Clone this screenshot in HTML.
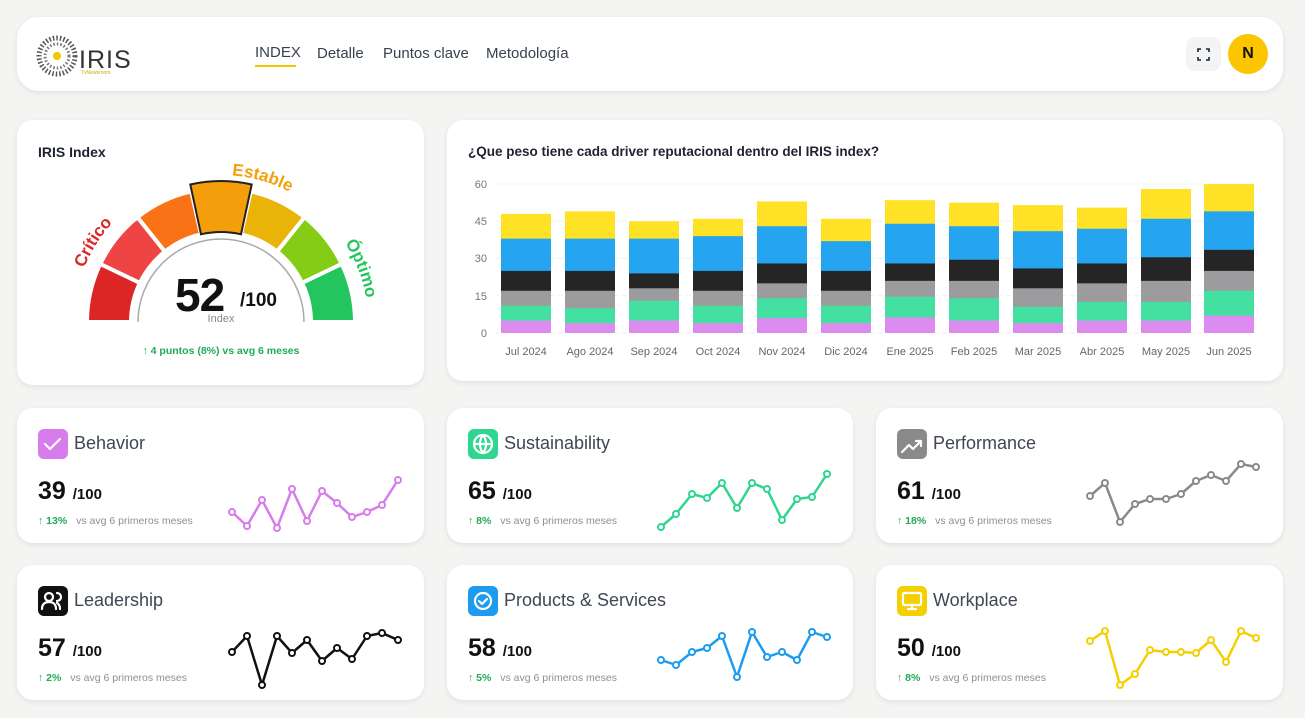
<!DOCTYPE html>
<html><head><meta charset="utf-8">
<style>
*{margin:0;padding:0;box-sizing:border-box}
body{width:1305px;height:718px;background:#f4f4f3;font-family:"Liberation Sans",sans-serif;position:relative;overflow:hidden}
.card{position:absolute;background:#fff;border-radius:16px;box-shadow:0 2px 6px rgba(0,0,0,.08)}
.abs{position:absolute;white-space:nowrap}
.nav{font-size:15px;color:#374151;top:45px}
.ttl{font-size:18px;color:#3f4654}
.val{font-size:25px;font-weight:bold;color:#111}
.val small{font-size:15px}
.sub{font-size:10.5px;color:#8a8f98}
.sub b{color:#22a957;font-weight:bold;margin-right:6px}
.ico{position:absolute;width:30px;height:30px;border-radius:6px}
</style></head><body>

<div class="card" style="left:17px;top:17px;width:1266px;height:74px;border-radius:22px"></div>
<svg class="abs" style="left:30px;top:30px" width="110" height="50">
 <circle cx="27" cy="26" r="18" fill="none" stroke="#555" stroke-width="5" stroke-dasharray="1.5 2"/>
 <circle cx="27" cy="26" r="12" fill="none" stroke="#777" stroke-width="3" stroke-dasharray="1.5 2"/>
 <circle cx="27" cy="26" r="4" fill="#f5c400"/>
 <text x="49" y="38" font-size="25" font-family="Liberation Sans" fill="#333" font-weight="300" letter-spacing="1">IRIS</text>
 <text x="51" y="44" font-size="5" fill="#d4a800">TvNewsroom</text>
</svg>
<div class="abs nav" style="left:255px;top:44px">INDEX</div>
<div class="abs" style="left:255px;top:65px;width:41px;height:2px;background:#f5c400"></div>
<div class="abs nav" style="left:317px">Detalle</div>
<div class="abs nav" style="left:383px">Puntos clave</div>
<div class="abs nav" style="left:486px">Metodología</div>
<div class="abs" style="left:1186px;top:37px;width:35px;height:34px;background:#f3f4f6;border-radius:9px"></div>
<svg class="abs" style="left:1196px;top:47px" width="15" height="15" stroke="#222" stroke-width="1.6" fill="none"><path d="M2 5V2h3M13 5V2h-3M2 10v3h3M13 10v3h-3"/></svg>
<div class="abs" style="left:1228px;top:34px;width:40px;height:40px;border-radius:50%;background:#fdc500;text-align:center;line-height:40px;font-weight:bold;font-size:16px;color:#111">N</div>

<!-- gauge card -->
<div class="card" style="left:17px;top:120px;width:407px;height:265px"></div>
<div class="abs" style="left:38px;top:144px;font-size:14px;font-weight:bold;color:#1f2330">IRIS Index</div>
<svg class="abs" style="left:0;top:0" width="440" height="390">
 <g stroke="#fff" stroke-width="4" stroke-linejoin="miter">
 <path d="M87 322A134 134 0 0 1 100.3 263.9L139.9 282.9A90 90 0 0 0 131 322Z" fill="#dc2626"/>
 <path d="M100.3 263.9A134 134 0 0 1 137.5 217.2L164.9 251.6A90 90 0 0 0 139.9 282.9Z" fill="#ef4444"/>
 <path d="M137.5 217.2A134 134 0 0 1 191.2 191.4L201 234.3A90 90 0 0 0 164.9 251.6Z" fill="#f97316"/>
 <path d="M250.8 191.4A134 134 0 0 1 304.5 217.2L277.1 251.6A90 90 0 0 0 241 234.3Z" fill="#eab308"/>
 <path d="M304.5 217.2A134 134 0 0 1 341.7 263.9L302.1 282.9A90 90 0 0 0 277.1 251.6Z" fill="#84cc16"/>
 <path d="M341.7 263.9A134 134 0 0 1 355 322L311 322A90 90 0 0 0 302.1 282.9Z" fill="#22c55e"/>
 </g>
 <path d="M190.3 184.5A138 138 0 0 1 251.7 184.5L241 234.3A90 90 0 0 0 201 234.3Z" fill="#f59e0b" stroke="#222" stroke-width="2"/>
 <path d="M138 322A83 83 0 0 1 304 322" fill="#fff" stroke="#aaa" stroke-width="1.5"/>
 <rect x="80" y="322" width="290" height="10" fill="#fff"/>
 <path id="lbl" d="M74 322A147 147 0 0 1 368 322" fill="none"/>
 <g font-size="17" font-weight="bold" text-anchor="middle">
 <text fill="#dc2626"><textPath href="#lbl" startOffset="82">Crítico</textPath></text>
 <text fill="#f59e0b"><textPath href="#lbl" startOffset="272">Estable</textPath></text>
 <text fill="#22c55e"><textPath href="#lbl" startOffset="408">Óptimo</textPath></text>
 </g>
 <text x="175" y="311" font-size="46" font-weight="bold" fill="#111" letter-spacing="-1">52</text>
 <text x="240" y="306" font-size="19" font-weight="bold" fill="#111">/100</text>
 <text x="221" y="322" font-size="11" fill="#888" text-anchor="middle">Index</text>
 <text x="221" y="354" font-size="10.5" font-weight="bold" fill="#22a957" text-anchor="middle">↑  4 puntos (8%) vs avg 6 meses</text>
</svg>

<!-- bar chart card -->
<div class="card" style="left:447px;top:120px;width:836px;height:261px"></div>
<div class="abs" style="left:468px;top:144px;font-size:13.5px;font-weight:bold;color:#1f2330">¿Que peso tiene cada driver reputacional dentro del IRIS index?</div>
<svg class="abs" style="left:0;top:0" width="1305" height="380">
 <g stroke="#eee" stroke-dasharray="4 4">
  <line x1="495" x2="1255" y1="333" y2="333"/><line x1="495" x2="1255" y1="295.8" y2="295.8"/>
  <line x1="495" x2="1255" y1="258.5" y2="258.5"/><line x1="495" x2="1255" y1="221.3" y2="221.3"/>
  <line x1="495" x2="1255" y1="184" y2="184"/>
 </g>
 <g font-size="11" fill="#777" text-anchor="end">
  <text x="487" y="337">0</text><text x="487" y="300">15</text><text x="487" y="262">30</text><text x="487" y="225">45</text><text x="487" y="188">60</text>
 </g>
 <g transform="translate(0,333) scale(1,-2.483)">
  <g fill="#ffe126">
   <rect x="501" y="0" width="50" height="48"/><rect x="565" y="0" width="50" height="49"/><rect x="629" y="0" width="50" height="45"/><rect x="693" y="0" width="50" height="46"/><rect x="757" y="0" width="50" height="53"/><rect x="821" y="0" width="50" height="46"/><rect x="885" y="0" width="50" height="53.5"/><rect x="949" y="0" width="50" height="52.5"/><rect x="1013" y="0" width="50" height="51.5"/><rect x="1077" y="0" width="50" height="50.5"/><rect x="1141" y="0" width="50" height="58"/><rect x="1204" y="0" width="50" height="60"/>
  </g>
  <g fill="#25a5ef">
   <rect x="501" y="0" width="50" height="38"/><rect x="565" y="0" width="50" height="38"/><rect x="629" y="0" width="50" height="38"/><rect x="693" y="0" width="50" height="39"/><rect x="757" y="0" width="50" height="43"/><rect x="821" y="0" width="50" height="37"/><rect x="885" y="0" width="50" height="44"/><rect x="949" y="0" width="50" height="43"/><rect x="1013" y="0" width="50" height="41"/><rect x="1077" y="0" width="50" height="42"/><rect x="1141" y="0" width="50" height="46"/><rect x="1204" y="0" width="50" height="49"/>
  </g>
  <g fill="#252525">
   <rect x="501" y="0" width="50" height="25"/><rect x="565" y="0" width="50" height="25"/><rect x="629" y="0" width="50" height="24"/><rect x="693" y="0" width="50" height="25"/><rect x="757" y="0" width="50" height="28"/><rect x="821" y="0" width="50" height="25"/><rect x="885" y="0" width="50" height="28"/><rect x="949" y="0" width="50" height="29.5"/><rect x="1013" y="0" width="50" height="26"/><rect x="1077" y="0" width="50" height="28"/><rect x="1141" y="0" width="50" height="30.5"/><rect x="1204" y="0" width="50" height="33.5"/>
  </g>
  <g fill="#9c9c9e">
   <rect x="501" y="0" width="50" height="17"/><rect x="565" y="0" width="50" height="17"/><rect x="629" y="0" width="50" height="18"/><rect x="693" y="0" width="50" height="17"/><rect x="757" y="0" width="50" height="20"/><rect x="821" y="0" width="50" height="17"/><rect x="885" y="0" width="50" height="21"/><rect x="949" y="0" width="50" height="21"/><rect x="1013" y="0" width="50" height="18"/><rect x="1077" y="0" width="50" height="20"/><rect x="1141" y="0" width="50" height="21"/><rect x="1204" y="0" width="50" height="25"/>
  </g>
  <g fill="#43e0a2">
   <rect x="501" y="0" width="50" height="11"/><rect x="565" y="0" width="50" height="10"/><rect x="629" y="0" width="50" height="13"/><rect x="693" y="0" width="50" height="11"/><rect x="757" y="0" width="50" height="14"/><rect x="821" y="0" width="50" height="11"/><rect x="885" y="0" width="50" height="14.6"/><rect x="949" y="0" width="50" height="14"/><rect x="1013" y="0" width="50" height="10.5"/><rect x="1077" y="0" width="50" height="12.5"/><rect x="1141" y="0" width="50" height="12.5"/><rect x="1204" y="0" width="50" height="17"/>
  </g>
  <g fill="#dc8cee">
   <rect x="501" y="0" width="50" height="5"/><rect x="565" y="0" width="50" height="4"/><rect x="629" y="0" width="50" height="5"/><rect x="693" y="0" width="50" height="4"/><rect x="757" y="0" width="50" height="6"/><rect x="821" y="0" width="50" height="4"/><rect x="885" y="0" width="50" height="6.3"/><rect x="949" y="0" width="50" height="5"/><rect x="1013" y="0" width="50" height="4"/><rect x="1077" y="0" width="50" height="5"/><rect x="1141" y="0" width="50" height="5"/><rect x="1204" y="0" width="50" height="7"/>
  </g>
 </g>
 <g font-size="11" fill="#666" text-anchor="middle">
  <text x="526" y="355">Jul 2024</text><text x="590" y="355">Ago 2024</text><text x="654" y="355">Sep 2024</text><text x="718" y="355">Oct 2024</text><text x="782" y="355">Nov 2024</text><text x="846" y="355">Dic 2024</text><text x="910" y="355">Ene 2025</text><text x="974" y="355">Feb 2025</text><text x="1038" y="355">Mar 2025</text><text x="1102" y="355">Abr 2025</text><text x="1166" y="355">May 2025</text><text x="1229" y="355">Jun 2025</text>
 </g>
</svg>

<!-- small cards -->
<div class="card" style="left:17px;top:408px;width:407px;height:135px"></div>
<div class="card" style="left:447px;top:408px;width:406px;height:135px"></div>
<div class="card" style="left:876px;top:408px;width:407px;height:135px"></div>
<div class="card" style="left:17px;top:565px;width:407px;height:135px"></div>
<div class="card" style="left:447px;top:565px;width:406px;height:135px"></div>
<div class="card" style="left:876px;top:565px;width:407px;height:135px"></div>

<div class="ico" style="left:38px;top:429px;background:#d77cec"></div>
<div class="ico" style="left:468px;top:429px;background:#2fd68f"></div>
<div class="ico" style="left:897px;top:429px;background:#8a8a8a"></div>
<div class="ico" style="left:38px;top:586px;background:#111"></div>
<div class="ico" style="left:468px;top:586px;background:#1d9bf0"></div>
<div class="ico" style="left:897px;top:586px;background:#f5d000"></div>
<svg class="abs" style="left:0;top:0" width="1305" height="718" fill="none" stroke="#fff" stroke-width="2.2" stroke-linecap="round" stroke-linejoin="round">
 <path d="M45 444l5 5 10-10"/>
 <circle cx="483" cy="444" r="9"/><path d="M474 444h18M483 435c-4 5-4 13 0 18M483 435c4 5 4 13 0 18"/>
 <path d="M902 452l7-7 4 4 8-8M916 441h5v5"/>
 <circle cx="49" cy="597" r="4"/><path d="M42 609c0-5 3-7 7-7s7 2 7 7M57 593a4 4 0 0 1 0 8M60 609c0-3-1-5-3-6"/>
 <circle cx="483" cy="601" r="8"/><path d="M479 601l3 3 5-5"/>
 <rect x="903" y="593" width="18" height="12" rx="1.5"/><path d="M912 605v4M908 609h8"/>
</svg>

<div class="abs ttl" style="left:74px;top:433px">Behavior</div>
<div class="abs ttl" style="left:504px;top:433px">Sustainability</div>
<div class="abs ttl" style="left:933px;top:433px">Performance</div>
<div class="abs ttl" style="left:74px;top:590px">Leadership</div>
<div class="abs ttl" style="left:504px;top:590px">Products &amp; Services</div>
<div class="abs ttl" style="left:933px;top:590px">Workplace</div>

<div class="abs val" style="left:38px;top:477px">39 <small>/100</small></div>
<div class="abs val" style="left:468px;top:477px">65 <small>/100</small></div>
<div class="abs val" style="left:897px;top:477px">61 <small>/100</small></div>
<div class="abs val" style="left:38px;top:634px">57 <small>/100</small></div>
<div class="abs val" style="left:468px;top:634px">58 <small>/100</small></div>
<div class="abs val" style="left:897px;top:634px">50 <small>/100</small></div>

<div class="abs sub" style="left:38px;top:515px"><b>↑ 13%</b> vs avg 6 primeros meses</div>
<div class="abs sub" style="left:468px;top:515px"><b>↑ 8%</b> vs avg 6 primeros meses</div>
<div class="abs sub" style="left:897px;top:515px"><b>↑ 18%</b> vs avg 6 primeros meses</div>
<div class="abs sub" style="left:38px;top:672px"><b>↑ 2%</b> vs avg 6 primeros meses</div>
<div class="abs sub" style="left:468px;top:672px"><b>↑ 5%</b> vs avg 6 primeros meses</div>
<div class="abs sub" style="left:897px;top:672px"><b>↑ 8%</b> vs avg 6 primeros meses</div>

<svg class="abs" style="left:0;top:0" width="1305" height="718" fill="#fff" stroke-width="2.5" stroke-linejoin="round">
 <g stroke="#d77cec"><polyline fill="none" points="232,512 247,526 262,500 277,528 292,489 307,521 322,491 337,503 352,517 367,512 382,505 398,480"/>
  <g stroke-width="2"><circle cx="232" cy="512" r="3"/><circle cx="247" cy="526" r="3"/><circle cx="262" cy="500" r="3"/><circle cx="277" cy="528" r="3"/><circle cx="292" cy="489" r="3"/><circle cx="307" cy="521" r="3"/><circle cx="322" cy="491" r="3"/><circle cx="337" cy="503" r="3"/><circle cx="352" cy="517" r="3"/><circle cx="367" cy="512" r="3"/><circle cx="382" cy="505" r="3"/><circle cx="398" cy="480" r="3"/></g></g>
 <g stroke="#2fd68f"><polyline fill="none" points="661,527 676,514 692,494 707,498 722,483 737,508 752,483 767,489 782,520 797,499 812,497 827,474"/>
  <g stroke-width="2"><circle cx="661" cy="527" r="3"/><circle cx="676" cy="514" r="3"/><circle cx="692" cy="494" r="3"/><circle cx="707" cy="498" r="3"/><circle cx="722" cy="483" r="3"/><circle cx="737" cy="508" r="3"/><circle cx="752" cy="483" r="3"/><circle cx="767" cy="489" r="3"/><circle cx="782" cy="520" r="3"/><circle cx="797" cy="499" r="3"/><circle cx="812" cy="497" r="3"/><circle cx="827" cy="474" r="3"/></g></g>
 <g stroke="#8a8a8a"><polyline fill="none" points="1090,496 1105,483 1120,522 1135,504 1150,499 1166,499 1181,494 1196,481 1211,475 1226,481 1241,464 1256,467"/>
  <g stroke-width="2"><circle cx="1090" cy="496" r="3"/><circle cx="1105" cy="483" r="3"/><circle cx="1120" cy="522" r="3"/><circle cx="1135" cy="504" r="3"/><circle cx="1150" cy="499" r="3"/><circle cx="1166" cy="499" r="3"/><circle cx="1181" cy="494" r="3"/><circle cx="1196" cy="481" r="3"/><circle cx="1211" cy="475" r="3"/><circle cx="1226" cy="481" r="3"/><circle cx="1241" cy="464" r="3"/><circle cx="1256" cy="467" r="3"/></g></g>
 <g stroke="#111"><polyline fill="none" points="232,652 247,636 262,685 277,636 292,653 307,640 322,661 337,648 352,659 367,636 382,633 398,640"/>
  <g stroke-width="2"><circle cx="232" cy="652" r="3"/><circle cx="247" cy="636" r="3"/><circle cx="262" cy="685" r="3"/><circle cx="277" cy="636" r="3"/><circle cx="292" cy="653" r="3"/><circle cx="307" cy="640" r="3"/><circle cx="322" cy="661" r="3"/><circle cx="337" cy="648" r="3"/><circle cx="352" cy="659" r="3"/><circle cx="367" cy="636" r="3"/><circle cx="382" cy="633" r="3"/><circle cx="398" cy="640" r="3"/></g></g>
 <g stroke="#1d9bf0"><polyline fill="none" points="661,660 676,665 692,652 707,648 722,636 737,677 752,632 767,657 782,652 797,660 812,632 827,637"/>
  <g stroke-width="2"><circle cx="661" cy="660" r="3"/><circle cx="676" cy="665" r="3"/><circle cx="692" cy="652" r="3"/><circle cx="707" cy="648" r="3"/><circle cx="722" cy="636" r="3"/><circle cx="737" cy="677" r="3"/><circle cx="752" cy="632" r="3"/><circle cx="767" cy="657" r="3"/><circle cx="782" cy="652" r="3"/><circle cx="797" cy="660" r="3"/><circle cx="812" cy="632" r="3"/><circle cx="827" cy="637" r="3"/></g></g>
 <g stroke="#f5d000"><polyline fill="none" points="1090,641 1105,631 1120,685 1135,674 1150,650 1166,652 1181,652 1196,653 1211,640 1226,662 1241,631 1256,638"/>
  <g stroke-width="2"><circle cx="1090" cy="641" r="3"/><circle cx="1105" cy="631" r="3"/><circle cx="1120" cy="685" r="3"/><circle cx="1135" cy="674" r="3"/><circle cx="1150" cy="650" r="3"/><circle cx="1166" cy="652" r="3"/><circle cx="1181" cy="652" r="3"/><circle cx="1196" cy="653" r="3"/><circle cx="1211" cy="640" r="3"/><circle cx="1226" cy="662" r="3"/><circle cx="1241" cy="631" r="3"/><circle cx="1256" cy="638" r="3"/></g></g>
</svg>
</body></html>
